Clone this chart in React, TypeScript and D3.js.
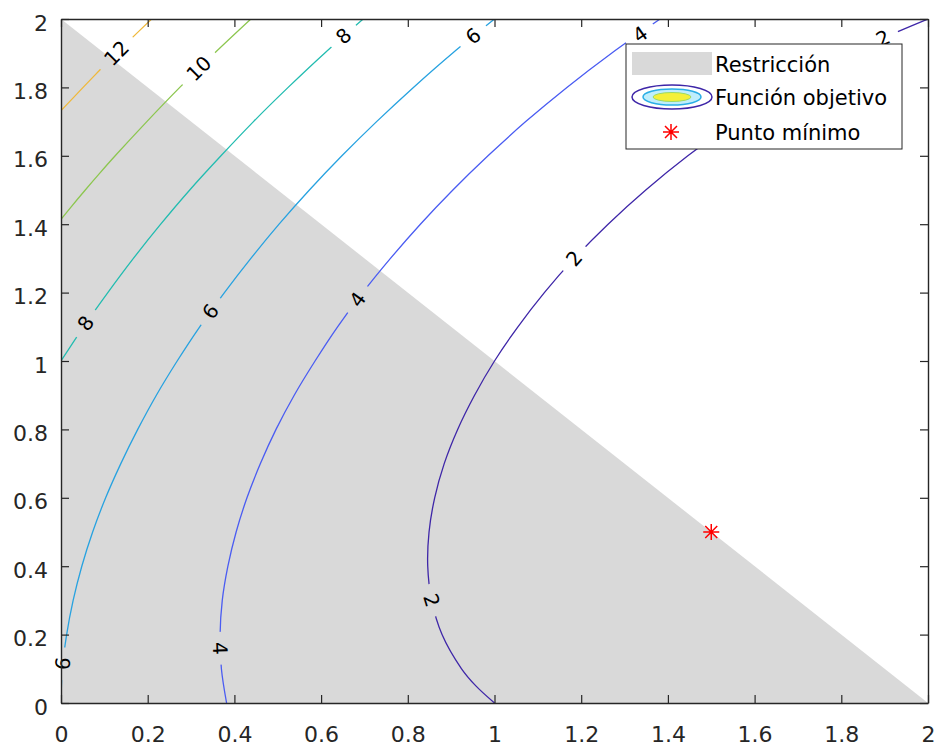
import React, { useEffect, useRef } from "react";
import * as d3 from "d3";

// tick values on both axes
const xTicks = [0, 0.2, 0.4, 0.6, 0.8, 1, 1.2, 1.4, 1.6, 1.8, 2];
const yTicks = [0, 0.2, 0.4, 0.6, 0.8, 1, 1.2, 1.4, 1.6, 1.8, 2];

// contour lines, [x, y]
const contourLevels = [2, 4, 6, 8, 10, 12];
const contour2 = [
  [1.0, 0], [0.957, 0.05], [0.924, 0.1], [0.879, 0.2], [0.855, 0.3], [0.846, 0.4],
  [0.849, 0.5], [0.862, 0.6], [0.884, 0.7], [0.915, 0.8], [0.954, 0.9], [1.0, 1.0],
  [1.054, 1.1], [1.115, 1.2], [1.184, 1.3], [1.262, 1.4], [1.349, 1.5], [1.446, 1.6],
  [1.555, 1.7], [1.679, 1.8], [1.824, 1.9], [1.907, 1.95], [2.0, 2.0],
];
const contour4 = [
  [0.382, 0], [0.37, 0.1], [0.367, 0.2], [0.372, 0.3], [0.385, 0.4], [0.404, 0.5],
  [0.429, 0.6], [0.46, 0.7], [0.496, 0.8], [0.538, 0.9], [0.586, 1.0], [0.638, 1.1],
  [0.696, 1.2], [0.76, 1.3], [0.829, 1.4], [0.904, 1.5], [0.985, 1.6], [1.072, 1.7],
  [1.167, 1.8], [1.27, 1.9], [1.382, 2.0],
];
const contour6 = [
  [0, 0], [0.001, 0.05], [0.003, 0.1], [0.013, 0.2], [0.028, 0.3], [0.048, 0.4],
  [0.073, 0.5], [0.103, 0.6], [0.138, 0.7], [0.177, 0.8], [0.22, 0.9], [0.268, 1.0],
  [0.32, 1.1], [0.377, 1.2], [0.438, 1.3], [0.503, 1.4], [0.573, 1.5], [0.648, 1.6],
  [0.728, 1.7], [0.813, 1.8], [0.903, 1.9], [1.0, 2.0],
];
const contour8 = [
  [0, 1.0], [0.052, 1.1], [0.108, 1.2], [0.167, 1.3], [0.23, 1.4], [0.297, 1.5],
  [0.369, 1.6], [0.444, 1.7], [0.524, 1.8], [0.608, 1.9], [0.697, 2.0],
];
const contour10 = [
  [0, 1.414], [0.023, 1.45], [0.056, 1.5], [0.09, 1.55], [0.125, 1.6], [0.198, 1.7],
  [0.274, 1.8], [0.354, 1.9], [0.438, 2.0],
];
const contour12 = [
  [0, 1.732], [0.051, 1.8], [0.089, 1.85], [0.128, 1.9], [0.168, 1.95], [0.209, 2.0],
];
const contourLines = [contour2, contour4, contour6, contour8, contour10, contour12];
const contourColors = ["#3e26a8", "#4a5cf2", "#27a2e0", "#22bcb0", "#8cc64f", "#efb83a"];

// inline labels: level and position on the line
const labelLevels = [12, 10, 8, 6, 4, 2, 8, 6, 4, 2, 2, 4, 6];
const labelX = [0.128, 0.318, 0.652, 0.951, 1.336, 1.896, 0.057, 0.345, 0.684, 1.184, 0.855, 0.367, 0.004];
const labelY = [1.9, 1.855, 1.95, 1.95, 1.955, 1.944, 1.11, 1.145, 1.18, 1.3, 0.3, 0.16, 0.115];

const restriction = [[0, 0], [2, 0], [0, 2]];
const minimumPoint = [1.5, 0.5];
const legendLabels = ["Restricción", "Función objetivo", "Punto mínimo"];

const FONT = "DejaVu Sans";
const AXIS = "#262626";

const App = () => {
  const svgRef = useRef<SVGSVGElement>(null);

  useEffect(() => {
    document.body.style.margin = "0";
    const w = 937;
    const h = 747;

    const svg = d3.select(svgRef.current).attr("width", w).attr("height", h);
    svg.selectAll("*").remove();

    const x = d3.scaleLinear().domain([0, 2]).range([61, 928]);
    const y = d3.scaleLinear().domain([0, 2]).range([703, 19]);

    const defs = svg.append("defs");
    defs
      .append("clipPath")
      .attr("id", "plotClip")
      .append("rect")
      .attr("x", x(0))
      .attr("y", y(2))
      .attr("width", x(2) - x(0))
      .attr("height", y(0) - y(2));

    // restriction region
    svg
      .append("path")
      .attr("d", d3.line()(restriction.map(([a, b]) => [x(a), y(b)]) as [number, number][]) + "Z")
      .attr("fill", "#d9d9d9");

    // label placement + rotation following the line
    const labelFont = 20;
    const labels = labelLevels.map((lv, i) => {
      const pts = contourLines[contourLevels.indexOf(lv)].map(([a, b]) => [x(a), y(b)]);
      const px = x(labelX[i]);
      const py = y(labelY[i]);
      let best = 0;
      let bestD = Infinity;
      for (let k = 0; k < pts.length - 1; k++) {
        const [x0, y0] = pts[k];
        const [x1, y1] = pts[k + 1];
        const dx = x1 - x0;
        const dy = y1 - y0;
        const t = Math.max(0, Math.min(1, ((px - x0) * dx + (py - y0) * dy) / (dx * dx + dy * dy)));
        const d = Math.hypot(px - (x0 + t * dx), py - (y0 + t * dy));
        if (d < bestD) {
          bestD = d;
          best = k;
        }
      }
      const p0 = pts[best];
      const p1 = pts[best + 1];
      let ang = (Math.atan2(p1[1] - p0[1], p1[0] - p0[0]) * 180) / Math.PI;
      if (ang > 90) ang -= 180;
      if (ang <= -90) ang += 180;
      const text = String(lv);
      return { px, py, ang, text, gap: text.length * 0.636 * labelFont + 20 };
    });

    const mask = defs
      .append("mask")
      .attr("id", "labelGaps")
      .attr("maskUnits", "userSpaceOnUse")
      .attr("x", 0)
      .attr("y", 0)
      .attr("width", w)
      .attr("height", h);
    mask.append("rect").attr("width", w).attr("height", h).attr("fill", "white");
    mask
      .selectAll("rect.gap")
      .data(labels)
      .join("rect")
      .attr("class", "gap")
      .attr("x", (d) => -d.gap / 2)
      .attr("y", -10)
      .attr("width", (d) => d.gap)
      .attr("height", 20)
      .attr("transform", (d) => `translate(${d.px},${d.py}) rotate(${d.ang})`)
      .attr("fill", "black");

    const line = d3
      .line<number[]>()
      .x((d) => x(d[0]))
      .y((d) => y(d[1]))
      .curve(d3.curveCatmullRom);

    svg
      .append("g")
      .attr("clip-path", "url(#plotClip)")
      .append("g")
      .attr("mask", "url(#labelGaps)")
      .selectAll("path")
      .data(contourLines)
      .join("path")
      .attr("d", (d) => line(d))
      .attr("fill", "none")
      .attr("stroke", (d, i) => contourColors[i])
      .attr("stroke-width", 1.3);

    svg
      .append("g")
      .selectAll("text")
      .data(labels)
      .join("text")
      .attr("transform", (d) => `translate(${d.px},${d.py}) rotate(${d.ang})`)
      .attr("text-anchor", "middle")
      .attr("dominant-baseline", "central")
      .attr("font-family", FONT)
      .attr("font-size", labelFont)
      .attr("fill", "#000")
      .text((d) => d.text);

    // minimum point
    const star = "M-8,0H8M0,-8V8M-6,-6L6,6M-6,6L6,-6";
    svg
      .append("path")
      .attr("d", star)
      .attr("transform", `translate(${x(minimumPoint[0])},${y(minimumPoint[1])})`)
      .attr("stroke", "#ff0000")
      .attr("stroke-width", 1.5)
      .attr("fill", "none");

    // axes, ticks inward on all four sides
    const fmt = (d: d3.NumberValue) => `${d}`;
    const styleAxis = (g: d3.Selection<SVGGElement, unknown, null, undefined>) => {
      g.attr("font-family", FONT).attr("font-size", 22);
      g.select(".domain").attr("stroke", AXIS).attr("stroke-width", 1.4);
      g.selectAll(".tick line").attr("stroke", AXIS).attr("stroke-width", 1.2);
      g.selectAll(".tick text").attr("fill", AXIS);
    };

    svg
      .append("g")
      .attr("transform", `translate(0,${y(0)})`)
      .call(d3.axisBottom(x).tickValues(xTicks).tickSizeInner(-8).tickSizeOuter(0).tickPadding(23).tickFormat(fmt))
      .call(styleAxis);

    svg
      .append("g")
      .attr("transform", `translate(${x(0)},0)`)
      .call(d3.axisLeft(y).tickValues(yTicks).tickSizeInner(-8).tickSizeOuter(0).tickPadding(13).tickFormat(fmt))
      .call(styleAxis)
      .selectAll(".tick text")
      .attr("dy", "0.5em");

    svg
      .append("g")
      .attr("transform", `translate(0,${y(2)})`)
      .call(d3.axisTop(x).tickValues(xTicks).tickSizeInner(-8).tickSizeOuter(0).tickFormat(() => ""))
      .call(styleAxis);

    svg
      .append("g")
      .attr("transform", `translate(${x(2)},0)`)
      .call(d3.axisRight(y).tickValues(yTicks).tickSizeInner(-8).tickSizeOuter(0).tickFormat(() => ""))
      .call(styleAxis);

    // legend
    const lg = svg.append("g").attr("transform", "translate(626,44)");
    lg.append("rect")
      .attr("width", 276)
      .attr("height", 105)
      .attr("fill", "#fff")
      .attr("stroke", AXIS)
      .attr("stroke-width", 1);

    const rowY = [20, 53, 88];
    lg.append("rect").attr("x", 6).attr("y", rowY[0] - 12).attr("width", 80).attr("height", 23).attr("fill", "#d9d9d9");

    const icon = lg.append("g").attr("transform", `translate(46,${rowY[1]})`);
    icon.append("ellipse").attr("rx", 40).attr("ry", 12).attr("fill", "#fff").attr("stroke", contourColors[0]).attr("stroke-width", 1.5);
    icon.append("ellipse").attr("rx", 29).attr("ry", 8).attr("fill", "#bfeefc").attr("stroke", "#2aaee6").attr("stroke-width", 1.5);
    icon.append("ellipse").attr("rx", 19).attr("ry", 4.5).attr("fill", "#f4f03a").attr("stroke", "#9ad96a").attr("stroke-width", 1);

    lg.append("path")
      .attr("d", star)
      .attr("transform", `translate(45,${rowY[2]})`)
      .attr("stroke", "#ff0000")
      .attr("stroke-width", 1.5)
      .attr("fill", "none");

    lg.selectAll("text")
      .data(legendLabels)
      .join("text")
      .attr("x", 89)
      .attr("y", (d, i) => rowY[i] + 8)
      .attr("font-family", FONT)
      .attr("font-size", 21)
      .attr("fill", "#000")
      .text((d) => d);
  }, []);

  return <svg ref={svgRef} style={{ display: "block" }} />;
};

export default App;
